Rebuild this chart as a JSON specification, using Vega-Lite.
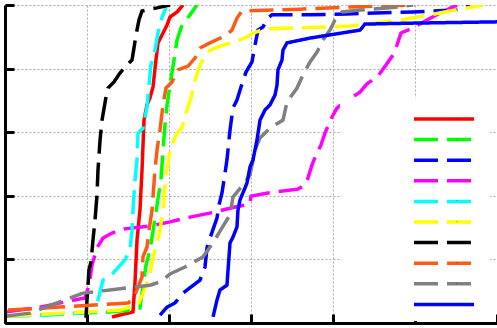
{
"$schema": "https://vega.github.io/schema/vega-lite/v6.json",
"width": 492, "height": 318,
"autosize": {"type": "none"},
"padding": {"left": 5, "top": 5, "right": 0, "bottom": 5},
"background": "white",
"datasets": {"d": [
{"s":"S1","x":13.05,"y":0.019},{"s":"S1","x":15.61,"y":0.035},{"s":"S1","x":15.85,"y":0.126},{"s":"S1","x":16.10,"y":0.261},{"s":"S1","x":16.46,"y":0.355},{"s":"S1","x":16.71,"y":0.481},{"s":"S1","x":16.95,"y":0.638},{"s":"S1","x":17.32,"y":0.686},{"s":"S1","x":17.68,"y":0.708},{"s":"S1","x":18.05,"y":0.742},{"s":"S1","x":18.41,"y":0.827},{"s":"S1","x":18.66,"y":0.881},{"s":"S1","x":19.27,"y":0.912},{"s":"S1","x":19.76,"y":0.937},{"s":"S1","x":20.12,"y":0.962},{"s":"S1","x":20.98,"y":0.978},{"s":"S1","x":21.71,"y":1.0},
{"s":"S2","x":0.24,"y":0.022},{"s":"S2","x":6.71,"y":0.028},{"s":"S2","x":13.05,"y":0.035},{"s":"S2","x":15.61,"y":0.041},{"s":"S2","x":16.46,"y":0.047},{"s":"S2","x":16.83,"y":0.119},{"s":"S2","x":17.20,"y":0.182},{"s":"S2","x":17.68,"y":0.230},{"s":"S2","x":18.17,"y":0.308},{"s":"S2","x":18.54,"y":0.371},{"s":"S2","x":19.02,"y":0.450},{"s":"S2","x":19.27,"y":0.544},{"s":"S2","x":19.51,"y":0.623},{"s":"S2","x":19.76,"y":0.686},{"s":"S2","x":20.12,"y":0.748},{"s":"S2","x":20.61,"y":0.827},{"s":"S2","x":20.98,"y":0.890},{"s":"S2","x":21.59,"y":0.937},{"s":"S2","x":22.56,"y":0.969},{"s":"S2","x":23.41,"y":1.0},
{"s":"S3","x":18.90,"y":0.025},{"s":"S3","x":19.76,"y":0.050},{"s":"S3","x":20.73,"y":0.063},{"s":"S3","x":21.71,"y":0.094},{"s":"S3","x":23.78,"y":0.135},{"s":"S3","x":24.39,"y":0.176},{"s":"S3","x":24.63,"y":0.236},{"s":"S3","x":25.0,"y":0.267},{"s":"S3","x":25.85,"y":0.330},{"s":"S3","x":26.10,"y":0.371},{"s":"S3","x":26.46,"y":0.409},{"s":"S3","x":26.71,"y":0.450},{"s":"S3","x":27.07,"y":0.513},{"s":"S3","x":27.44,"y":0.607},{"s":"S3","x":27.80,"y":0.676},{"s":"S3","x":28.29,"y":0.701},{"s":"S3","x":28.78,"y":0.742},{"s":"S3","x":29.39,"y":0.789},{"s":"S3","x":30.12,"y":0.821},{"s":"S3","x":30.49,"y":0.874},{"s":"S3","x":30.85,"y":0.921},{"s":"S3","x":31.46,"y":0.931},{"s":"S3","x":32.07,"y":0.959},{"s":"S3","x":32.56,"y":0.969},{"s":"S3","x":37.20,"y":0.969},{"s":"S3","x":41.71,"y":0.972},{"s":"S3","x":49.76,"y":0.978},{"s":"S3","x":54.63,"y":0.984},{"s":"S3","x":56.34,"y":0.994},{"s":"S3","x":56.71,"y":1.0},
{"s":"S4","x":0.24,"y":0.035},{"s":"S4","x":4.27,"y":0.050},{"s":"S4","x":9.76,"y":0.079},{"s":"S4","x":10.24,"y":0.119},{"s":"S4","x":10.61,"y":0.182},{"s":"S4","x":11.22,"y":0.236},{"s":"S4","x":11.95,"y":0.267},{"s":"S4","x":13.05,"y":0.283},{"s":"S4","x":14.63,"y":0.296},{"s":"S4","x":17.68,"y":0.305},{"s":"S4","x":20.12,"y":0.318},{"s":"S4","x":22.56,"y":0.333},{"s":"S4","x":25.61,"y":0.349},{"s":"S4","x":28.05,"y":0.365},{"s":"S4","x":29.88,"y":0.374},{"s":"S4","x":30.0,"y":0.399},{"s":"S4","x":32.07,"y":0.409},{"s":"S4","x":35.73,"y":0.421},{"s":"S4","x":36.59,"y":0.434},{"s":"S4","x":36.95,"y":0.456},{"s":"S4","x":37.44,"y":0.497},{"s":"S4","x":37.93,"y":0.528},{"s":"S4","x":38.54,"y":0.560},{"s":"S4","x":39.02,"y":0.597},{"s":"S4","x":39.88,"y":0.648},{"s":"S4","x":40.49,"y":0.676},{"s":"S4","x":41.46,"y":0.695},{"s":"S4","x":43.29,"y":0.726},{"s":"S4","x":44.15,"y":0.752},{"s":"S4","x":45.49,"y":0.777},{"s":"S4","x":46.46,"y":0.811},{"s":"S4","x":47.32,"y":0.843},{"s":"S4","x":47.80,"y":0.874},{"s":"S4","x":48.29,"y":0.912},{"s":"S4","x":49.76,"y":0.928},{"s":"S4","x":51.46,"y":0.953},{"s":"S4","x":53.05,"y":0.975},{"s":"S4","x":55.12,"y":1.0},
{"s":"S5","x":0.24,"y":0.022},{"s":"S5","x":5.49,"y":0.025},{"s":"S5","x":10.98,"y":0.035},{"s":"S5","x":11.34,"y":0.072},{"s":"S5","x":11.95,"y":0.135},{"s":"S5","x":13.17,"y":0.157},{"s":"S5","x":14.63,"y":0.198},{"s":"S5","x":15.24,"y":0.230},{"s":"S5","x":15.49,"y":0.292},{"s":"S5","x":15.61,"y":0.355},{"s":"S5","x":15.85,"y":0.450},{"s":"S5","x":16.10,"y":0.513},{"s":"S5","x":16.22,"y":0.597},{"s":"S5","x":16.83,"y":0.613},{"s":"S5","x":17.32,"y":0.679},{"s":"S5","x":17.56,"y":0.748},{"s":"S5","x":17.80,"y":0.811},{"s":"S5","x":18.29,"y":0.858},{"s":"S5","x":18.66,"y":0.912},{"s":"S5","x":19.15,"y":0.962},{"s":"S5","x":19.63,"y":0.991},
{"s":"S6","x":0.37,"y":0.022},{"s":"S6","x":6.71,"y":0.031},{"s":"S6","x":14.02,"y":0.041},{"s":"S6","x":16.22,"y":0.057},{"s":"S6","x":16.83,"y":0.094},{"s":"S6","x":17.32,"y":0.126},{"s":"S6","x":17.68,"y":0.157},{"s":"S6","x":18.29,"y":0.230},{"s":"S6","x":18.90,"y":0.292},{"s":"S6","x":19.27,"y":0.355},{"s":"S6","x":19.63,"y":0.465},{"s":"S6","x":20.12,"y":0.544},{"s":"S6","x":20.85,"y":0.591},{"s":"S6","x":21.59,"y":0.616},{"s":"S6","x":22.20,"y":0.670},{"s":"S6","x":22.68,"y":0.708},{"s":"S6","x":23.17,"y":0.764},{"s":"S6","x":23.78,"y":0.811},{"s":"S6","x":24.63,"y":0.852},{"s":"S6","x":25.61,"y":0.865},{"s":"S6","x":28.66,"y":0.890},{"s":"S6","x":30.61,"y":0.915},{"s":"S6","x":31.71,"y":0.925},{"s":"S6","x":35.98,"y":0.928},{"s":"S6","x":42.07,"y":0.934},{"s":"S6","x":47.56,"y":0.950},{"s":"S6","x":51.83,"y":0.969},{"s":"S6","x":54.88,"y":0.984},{"s":"S6","x":58.29,"y":1.0},
{"s":"S7","x":9.88,"y":0.016},{"s":"S7","x":10.0,"y":0.072},{"s":"S7","x":10.12,"y":0.119},{"s":"S7","x":10.24,"y":0.167},{"s":"S7","x":10.49,"y":0.192},{"s":"S7","x":10.73,"y":0.261},{"s":"S7","x":10.98,"y":0.324},{"s":"S7","x":11.22,"y":0.403},{"s":"S7","x":11.34,"y":0.481},{"s":"S7","x":11.59,"y":0.575},{"s":"S7","x":11.83,"y":0.638},{"s":"S7","x":12.32,"y":0.711},{"s":"S7","x":12.56,"y":0.739},{"s":"S7","x":13.29,"y":0.758},{"s":"S7","x":14.02,"y":0.786},{"s":"S7","x":14.63,"y":0.805},{"s":"S7","x":15.49,"y":0.827},{"s":"S7","x":15.73,"y":0.865},{"s":"S7","x":15.98,"y":0.906},{"s":"S7","x":16.34,"y":0.953},{"s":"S7","x":16.71,"y":0.981},{"s":"S7","x":17.68,"y":0.987},{"s":"S7","x":18.54,"y":0.991},{"s":"S7","x":20.12,"y":1.0},
{"s":"S8","x":0.37,"y":0.041},{"s":"S8","x":6.71,"y":0.050},{"s":"S8","x":15.0,"y":0.063},{"s":"S8","x":15.61,"y":0.075},{"s":"S8","x":16.10,"y":0.104},{"s":"S8","x":16.71,"y":0.145},{"s":"S8","x":16.83,"y":0.208},{"s":"S8","x":17.32,"y":0.239},{"s":"S8","x":17.56,"y":0.292},{"s":"S8","x":17.93,"y":0.355},{"s":"S8","x":18.29,"y":0.481},{"s":"S8","x":18.54,"y":0.544},{"s":"S8","x":18.90,"y":0.607},{"s":"S8","x":19.27,"y":0.686},{"s":"S8","x":19.63,"y":0.739},{"s":"S8","x":20.37,"y":0.758},{"s":"S8","x":21.10,"y":0.796},{"s":"S8","x":22.32,"y":0.808},{"s":"S8","x":23.17,"y":0.833},{"s":"S8","x":23.78,"y":0.865},{"s":"S8","x":25.0,"y":0.881},{"s":"S8","x":26.83,"y":0.903},{"s":"S8","x":27.68,"y":0.921},{"s":"S8","x":28.29,"y":0.959},{"s":"S8","x":28.90,"y":0.981},{"s":"S8","x":35.98,"y":0.987},{"s":"S8","x":42.07,"y":0.994},{"s":"S8","x":50.0,"y":1.0},
{"s":"S9","x":0.24,"y":0.022},{"s":"S9","x":3.05,"y":0.031},{"s":"S9","x":9.51,"y":0.094},{"s":"S9","x":12.80,"y":0.104},{"s":"S9","x":17.68,"y":0.119},{"s":"S9","x":18.90,"y":0.129},{"s":"S9","x":20.12,"y":0.154},{"s":"S9","x":21.95,"y":0.176},{"s":"S9","x":24.15,"y":0.208},{"s":"S9","x":25.37,"y":0.252},{"s":"S9","x":26.46,"y":0.299},{"s":"S9","x":27.44,"y":0.340},{"s":"S9","x":27.80,"y":0.396},{"s":"S9","x":29.02,"y":0.434},{"s":"S9","x":29.88,"y":0.465},{"s":"S9","x":30.49,"y":0.544},{"s":"S9","x":31.10,"y":0.582},{"s":"S9","x":32.32,"y":0.613},{"s":"S9","x":33.90,"y":0.638},{"s":"S9","x":34.39,"y":0.695},{"s":"S9","x":35.61,"y":0.739},{"s":"S9","x":36.34,"y":0.780},{"s":"S9","x":37.20,"y":0.821},{"s":"S9","x":38.05,"y":0.852},{"s":"S9","x":38.78,"y":0.890},{"s":"S9","x":39.63,"y":0.921},{"s":"S9","x":40.24,"y":0.953},{"s":"S9","x":41.10,"y":0.978},{"s":"S9","x":43.29,"y":0.984},{"s":"S9","x":46.95,"y":0.991},{"s":"S9","x":49.76,"y":1.0},
{"s":"S10","x":25.37,"y":0.019},{"s":"S10","x":25.85,"y":0.072},{"s":"S10","x":26.22,"y":0.104},{"s":"S10","x":27.07,"y":0.119},{"s":"S10","x":27.20,"y":0.167},{"s":"S10","x":27.44,"y":0.252},{"s":"S10","x":27.80,"y":0.270},{"s":"S10","x":28.29,"y":0.302},{"s":"S10","x":28.41,"y":0.355},{"s":"S10","x":28.66,"y":0.387},{"s":"S10","x":29.51,"y":0.440},{"s":"S10","x":29.88,"y":0.491},{"s":"S10","x":30.24,"y":0.513},{"s":"S10","x":30.73,"y":0.575},{"s":"S10","x":31.10,"y":0.638},{"s":"S10","x":31.71,"y":0.670},{"s":"S10","x":32.32,"y":0.686},{"s":"S10","x":32.93,"y":0.717},{"s":"S10","x":33.17,"y":0.748},{"s":"S10","x":33.29,"y":0.796},{"s":"S10","x":33.78,"y":0.827},{"s":"S10","x":33.90,"y":0.858},{"s":"S10","x":34.39,"y":0.881},{"s":"S10","x":37.20,"y":0.896},{"s":"S10","x":43.29,"y":0.921},{"s":"S10","x":43.90,"y":0.940},{"s":"S10","x":49.76,"y":0.943},{"s":"S10","x":60.0,"y":0.947}
]},
"data": {"name": "d"},
"mark": {"type": "line", "strokeWidth": 3.5, "clip": true},
"encoding": {
  "x": {"field": "x", "type": "quantitative", "scale": {"domain": [0, 60], "nice": false, "zero": false},
        "axis": {"values": [0,10,20,30,40,50,60], "labels": false, "title": null, "tickSize": -9, "tickWidth": 3, "tickColor": "black", "domainColor": "black", "domainWidth": 3, "grid": true, "gridColor": "#aaaaaa", "gridDash": [2,2], "gridWidth": 1}},
  "y": {"field": "y", "type": "quantitative", "scale": {"domain": [0, 1], "nice": false},
        "axis": {"values": [0,0.2,0.4,0.6,0.8,1.0], "labels": false, "title": null, "tickSize": -9, "tickWidth": 3, "tickColor": "black", "domainColor": "black", "domainWidth": 3, "grid": true, "gridColor": "#aaaaaa", "gridDash": [2,2], "gridWidth": 1}},
  "color": {"field": "s", "type": "nominal",
    "scale": {"domain": ["S1","S2","S3","S4","S5","S6","S7","S8","S9","S10"], "range": ["#ff0000","#00ff00","#0000ff","#ff00ff","#00ffff","#ffff00","#000000","#ff5a14","#808080","#0000ff"]},
    "legend": {"title": "\u00a0"}},
  "strokeDash": {"field": "s", "type": "nominal",
    "scale": {"domain": ["S1","S2","S3","S4","S5","S6","S7","S8","S9","S10"], "range": [[1,0],[24,9],[24,9],[24,9],[24,9],[24,9],[24,9],[24,9],[24,9],[1,0]]},
    "legend": {"title": "\u00a0"}}
},
"config": {
  "view": {"stroke": null},
  "legend": {"orient": "none", "legendX": 335, "legendY": 93, "fillColor": "white", "padding": 9,
    "labelExpr": "''", "labelOffset": 0, "labelFontSize": 1,
    "symbolType": "M-3,0H3", "symbolSize": 400, "symbolStrokeWidth": 3.5,
    "rowPadding": 1.6, "titleOrient": "left", "titlePadding": 83, "titleFontSize": 10}
}
}
